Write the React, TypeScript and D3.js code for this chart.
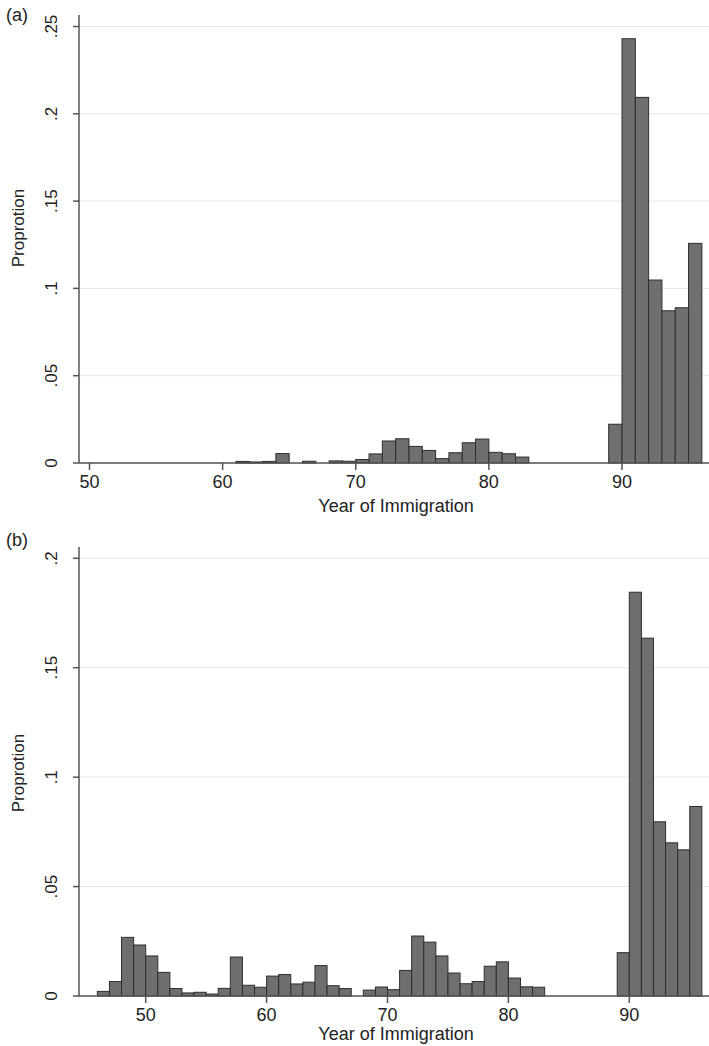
import React from "react";
import * as d3 from "d3";

// bin start years and proportions, panel (a)
const yearsA = [61, 62, 63, 64, 66, 68, 69, 70, 71, 72, 73, 74, 75, 76, 77, 78, 79, 80, 81, 82, 89, 90, 91, 92, 93, 94, 95];
const valuesA = [0.0009, 0.0006, 0.0009, 0.0054, 0.001, 0.0012, 0.001, 0.002, 0.0052, 0.0126, 0.0139, 0.0095, 0.0072, 0.0025, 0.0059, 0.0116, 0.0137, 0.0061, 0.0053, 0.0034, 0.0222, 0.243, 0.2094, 0.1048, 0.0872, 0.0889, 0.1258];
const yTicksA = [0, 0.05, 0.1, 0.15, 0.2, 0.25];
const xTicksA = [50, 60, 70, 80, 90];

// panel (b)
const yearsB = [46, 47, 48, 49, 50, 51, 52, 53, 54, 55, 56, 57, 58, 59, 60, 61, 62, 63, 64, 65, 66, 68, 69, 70, 71, 72, 73, 74, 75, 76, 77, 78, 79, 80, 81, 82, 89, 90, 91, 92, 93, 94, 95];
const valuesB = [0.0021, 0.0066, 0.0268, 0.0233, 0.0183, 0.0108, 0.0034, 0.0014, 0.0017, 0.0009, 0.0035, 0.0178, 0.0049, 0.004, 0.0091, 0.0098, 0.0055, 0.0063, 0.0139, 0.0047, 0.0034, 0.0027, 0.0041, 0.0029, 0.0117, 0.0274, 0.0246, 0.0183, 0.0105, 0.0056, 0.0066, 0.0136, 0.0156, 0.0082, 0.0042, 0.004, 0.0198, 0.1845, 0.1635, 0.0796, 0.07, 0.0668, 0.0866];
const yTicksB = [0, 0.05, 0.1, 0.15, 0.2];
const xTicksB = [50, 60, 70, 80, 90];

const fmt = (v: number) => (v === 0 ? "0" : String(v).replace(/^0/, ""));
const font = "'Liberation Sans', Arial, Helvetica, sans-serif";

type PanelProps = {
  label: string;
  labelY: number;
  years: number[];
  values: number[];
  xTicks: number[];
  yTicks: number[];
  x: d3.ScaleLinear<number, number>;
  y: d3.ScaleLinear<number, number>;
  axisTop: number;
  titleGap: number;
  ytitleY: number;
};

const Panel = ({ label, labelY, years, values, xTicks, yTicks, x, y, axisTop, titleGap, ytitleY }: PanelProps) => {
  const left = 79;
  const right = 709;
  const base = y(0);
  return (
    <g>
      <text x={6} y={labelY} fontSize={18} fontFamily={font} fill="#222">
        {label}
      </text>
      {yTicks.map((t) => (
        <line key={"g" + t} x1={left} x2={right} y1={y(t)} y2={y(t)} stroke="#e6e6e6" strokeWidth={1} />
      ))}
      {years.map((yr, i) => (
        <rect
          key={yr}
          x={x(yr)}
          y={y(values[i])}
          width={x(yr + 1) - x(yr)}
          height={base - y(values[i])}
          fill="#6f6f6f"
          stroke="#2e2e2e"
          strokeWidth={1}
        />
      ))}
      <line x1={left} x2={right} y1={base} y2={base} stroke="#555" strokeWidth={1.5} />
      <line x1={left} x2={left} y1={axisTop} y2={base} stroke="#555" strokeWidth={1.5} />
      {yTicks.map((t) => (
        <g key={"y" + t}>
          <line x1={left - 6} x2={left} y1={y(t)} y2={y(t)} stroke="#555" strokeWidth={1.5} />
          <text
            transform={`translate(57,${y(t)}) rotate(-90)`}
            textAnchor="middle"
            fontSize={17}
            fontFamily={font}
            fill="#222"
          >
            {fmt(t)}
          </text>
        </g>
      ))}
      {xTicks.map((t) => (
        <g key={"x" + t}>
          <line x1={x(t)} x2={x(t)} y1={base} y2={base + 7} stroke="#555" strokeWidth={1.5} />
          <text x={x(t)} y={base + 25} textAnchor="middle" fontSize={18} fontFamily={font} fill="#222">
            {t}
          </text>
        </g>
      ))}
      <text x={396} y={base + titleGap} textAnchor="middle" fontSize={18} fontFamily={font} fill="#222">
        Year of Immigration
      </text>
      <text
        transform={`translate(24,${ytitleY}) rotate(-90)`}
        textAnchor="middle"
        fontSize={17}
        fontFamily={font}
        fill="#222"
      >
        Proprotion
      </text>
    </g>
  );
};

export default function App() {
  const xA = d3.scaleLinear().domain([50, 90]).range([89.5, 622]);
  const yA = d3.scaleLinear().domain([0, 0.25]).range([463, 26.5]);
  const xB = d3.scaleLinear().domain([50, 90]).range([145.7, 629.3]);
  const yB = d3.scaleLinear().domain([0, 0.2]).range([996, 558.3]);
  return (
    <svg
      width={709}
      height={1046}
      style={{ position: "absolute", left: 0, top: 0, background: "#fff" }}
    >
      <rect width={709} height={1046} fill="#fff" />
      <Panel label="(a)" labelY={21} years={yearsA} values={valuesA} xTicks={xTicksA} yTicks={yTicksA} x={xA} y={yA} axisTop={15} titleGap={49} ytitleY={228} />
      <Panel label="(b)" labelY={546} years={yearsB} values={valuesB} xTicks={xTicksB} yTicks={yTicksB} x={xB} y={yB} axisTop={547} titleGap={44} ytitleY={773} />
    </svg>
  );
}
